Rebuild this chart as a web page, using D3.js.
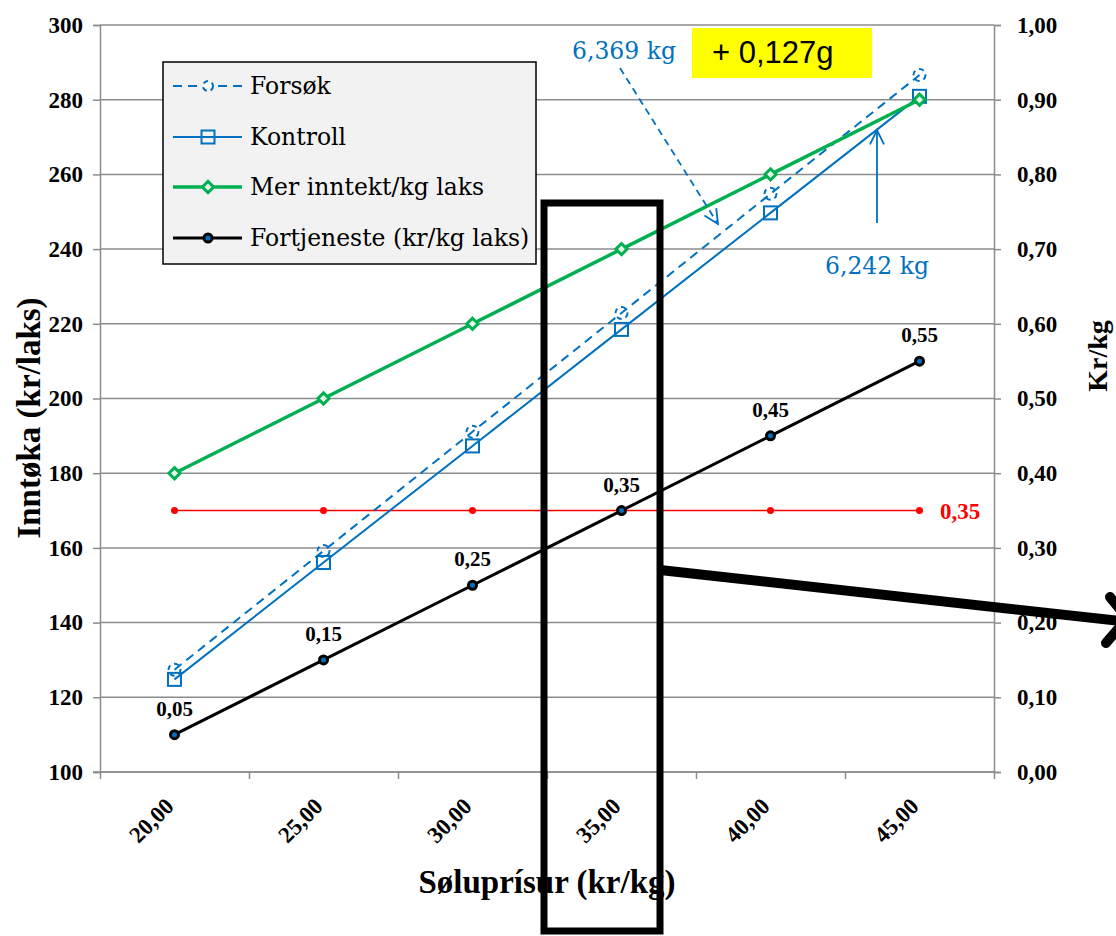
<!DOCTYPE html>
<html><head><meta charset="utf-8">
<script src="https://cdn.jsdelivr.net/npm/d3@7"></script>
<style>body{margin:0;background:#fff}svg{display:block}</style>
</head><body>
<svg id="c" width="1116" height="936"></svg>
<script>
const categories = ["20,00","25,00","30,00","35,00","40,00","45,00"];
const forsok = [127.4, 159.2, 191.1, 222.9, 254.8, 286.6];
const kontroll = [124.8, 156.1, 187.3, 218.5, 249.7, 280.9];
const merInntekt = [180, 200, 220, 240, 260, 280];
const fortjeneste = [0.05, 0.15, 0.25, 0.35, 0.45, 0.55];
const fortjenesteLabels = ["0,05","0,15","0,25","0,35","0,45","0,55"];
const terskel = [0.35, 0.35, 0.35, 0.35, 0.35, 0.35];
const leftTicks = [100,120,140,160,180,200,220,240,260,280,300];
const rightTicks = [0,0.1,0.2,0.3,0.4,0.5,0.6,0.7,0.8,0.9,1.0];
const legendNames = ["Forsøk","Kontroll","Mer inntekt/kg laks","Fortjeneste (kr/kg laks)"];

const BLUE = "#0070C0", GREEN = "#00B050", RED = "#FF0000", GRID = "#8c8c8c";
const SERIF = "'Liberation Serif', 'DejaVu Serif', serif";
const WSERIF = "'DejaVu Serif', 'Liberation Serif', serif";
const svg = d3.select("#c");
const L = 100, R = 994, T = 25, B = 772;
const x = d3.scaleBand().domain(categories).range([L, R]);
const xc = c => x(c) + x.bandwidth()/2;
const yL = d3.scaleLinear().domain([100,300]).range([B, T]);
const yR = d3.scaleLinear().domain([0,1]).range([B, T]);

// gridlines
svg.append("g").selectAll("line").data(leftTicks).join("line")
  .attr("x1", L).attr("x2", R).attr("y1", d=>yL(d)).attr("y2", d=>yL(d))
  .attr("stroke", GRID).attr("stroke-width", 1.5);

// axes
const fmt = d3.format(".2f");
const axL = svg.append("g").attr("transform", `translate(${L},0)`)
  .call(d3.axisLeft(yL).tickValues(leftTicks).tickSize(7).tickPadding(10));
const axR = svg.append("g").attr("transform", `translate(${R},0)`)
  .call(d3.axisRight(yR).tickValues(rightTicks).tickSize(7).tickPadding(16).tickFormat(d=>fmt(d).replace(".",",")));
const tickPos = d3.range(categories.length+1).map(i => L + i*x.step());
const axB = svg.append("g").attr("transform", `translate(0,${B})`)
  .call(d3.axisBottom(d3.scaleLinear().domain([L,R]).range([L,R])).tickValues(tickPos).tickSize(7).tickFormat(""));
[axL, axR, axB].forEach(a => {
  a.select(".domain").attr("stroke", GRID).attr("stroke-width", 1.5);
  a.selectAll(".tick line").attr("stroke", GRID).attr("stroke-width", 1.5);
  a.selectAll("text").attr("font-family", SERIF).attr("font-weight", "bold").attr("font-size", 23).attr("fill", "#000");
});
axB.select(".domain").attr("d", `M${L-7},0H${R}`);
// category labels
svg.append("g").selectAll("text").data(categories).join("text")
  .attr("transform", d => `translate(${xc(d)-5},${B+30}) rotate(-45)`)
  .attr("text-anchor", "end").attr("dy", "0.35em")
  .attr("font-family", SERIF).attr("font-weight", "bold").attr("font-size", 23).text(d => d);

// axis titles
svg.append("text").attr("x", 547).attr("y", 893).attr("text-anchor","middle")
  .attr("font-family", SERIF).attr("font-weight","bold").attr("font-size", 33).text("Søluprísur (kr/kg)");
svg.append("text").attr("transform", "translate(40,418) rotate(-90)").attr("text-anchor","middle")
  .attr("font-family", SERIF).attr("font-weight","bold").attr("font-size", 33).text("Inntøka (kr/laks)");
svg.append("text").attr("transform", "translate(1107,356) rotate(-90)").attr("text-anchor","middle")
  .attr("font-family", SERIF).attr("font-weight","bold").attr("font-size", 28).text("Kr/kg");

// red threshold line
const lineR = d3.line().x((d,i)=>xc(categories[i])).y(d=>yR(d));
svg.append("path").datum(terskel).attr("d", lineR).attr("fill","none").attr("stroke", RED).attr("stroke-width", 1.5);
svg.append("g").selectAll("circle").data(terskel).join("circle")
  .attr("cx",(d,i)=>xc(categories[i])).attr("cy", d=>yR(d)).attr("r", 3.5).attr("fill", RED);
svg.append("text").attr("x", 940).attr("y", yR(0.35)).attr("dy","0.35em")
  .attr("font-family", SERIF).attr("font-weight","bold").attr("font-size", 23).attr("fill", RED).text("0,35");

const lineL = d3.line().x((d,i)=>xc(categories[i])).y(d=>yL(d));

// Forsøk
svg.append("path").datum(forsok).attr("d", lineL).attr("fill","none").attr("stroke", BLUE)
  .attr("stroke-width", 2).attr("stroke-dasharray", "9,6");
svg.append("g").selectAll("circle").data(forsok).join("circle")
  .attr("cx",(d,i)=>xc(categories[i])).attr("cy", d=>yL(d)).attr("r", 6)
  .attr("fill","none").attr("stroke", BLUE).attr("stroke-width", 2).attr("stroke-dasharray","5,4");

// Kontroll
svg.append("path").datum(kontroll).attr("d", lineL).attr("fill","none").attr("stroke", BLUE).attr("stroke-width", 2);
svg.append("g").selectAll("rect").data(kontroll).join("rect")
  .attr("x",(d,i)=>xc(categories[i])-6.5).attr("y", d=>yL(d)-6.5).attr("width",13).attr("height",13)
  .attr("fill","none").attr("stroke", BLUE).attr("stroke-width", 2);

// Mer inntekt
svg.append("path").datum(merInntekt).attr("d", lineL).attr("fill","none").attr("stroke", GREEN).attr("stroke-width", 3.5);
const diamond = d3.symbol().type(d3.symbolDiamond2).size(80);
svg.append("g").selectAll("path").data(merInntekt).join("path")
  .attr("transform",(d,i)=>`translate(${xc(categories[i])},${yL(d)})`).attr("d", diamond)
  .attr("fill","#e6f5ea").attr("stroke", GREEN).attr("stroke-width", 3);

// Fortjeneste
svg.append("path").datum(fortjeneste).attr("d", lineR).attr("fill","none").attr("stroke", "#000").attr("stroke-width", 3);
svg.append("g").selectAll("circle").data(fortjeneste).join("circle")
  .attr("cx",(d,i)=>xc(categories[i])).attr("cy", d=>yR(d)).attr("r", 4)
  .attr("fill", BLUE).attr("stroke", "#000").attr("stroke-width", 3);
svg.append("g").selectAll("text").data(fortjeneste).join("text")
  .attr("x",(d,i)=>xc(categories[i])).attr("y", d=>yR(d)-19).attr("text-anchor","middle")
  .attr("font-family", SERIF).attr("font-weight","bold").attr("font-size", 21)
  .text((d,i)=>fortjenesteLabels[i]);

// Legend
const lg = svg.append("g");
lg.append("rect").attr("x",163).attr("y",62).attr("width",373).attr("height",202)
  .attr("fill","#f2f2f2").attr("stroke","#000").attr("stroke-width",1.5);
const ly = [86, 137, 187, 238];
legendNames.forEach((name, i) => {
  const y = ly[i], g = lg.append("g");
  const ln = g.append("line").attr("x1",173).attr("x2",242).attr("y1",y).attr("y2",y);
  if (i===0) { ln.attr("stroke",BLUE).attr("stroke-width",2).attr("stroke-dasharray","9,6");
    g.append("circle").attr("cx",208).attr("cy",y).attr("r",5).attr("fill","#fff").attr("stroke",BLUE).attr("stroke-width",2).attr("stroke-dasharray","5,4"); }
  if (i===1) { ln.attr("stroke",BLUE).attr("stroke-width",2);
    g.append("rect").attr("x",201.5).attr("y",y-6.5).attr("width",13).attr("height",13).attr("fill","none").attr("stroke",BLUE).attr("stroke-width",2); }
  if (i===2) { ln.attr("stroke",GREEN).attr("stroke-width",3.5);
    g.append("path").attr("transform",`translate(208,${y})`).attr("d",diamond).attr("fill","#e6f5ea").attr("stroke",GREEN).attr("stroke-width",3); }
  if (i===3) { ln.attr("stroke","#000").attr("stroke-width",3);
    g.append("circle").attr("cx",208).attr("cy",y).attr("r",4).attr("fill",BLUE).attr("stroke","#000").attr("stroke-width",3); }
  g.append("text").attr("x",250).attr("y",y).attr("dy","0.35em").attr("font-family",WSERIF).attr("font-size",23.5).text(name);
});

// Annotations
const arrowHead = (x2,y2,ang,len,col) => {
  const a1 = ang + Math.PI - 0.45, a2 = ang + Math.PI + 0.45;
  svg.append("path").attr("d",`M${x2+len*Math.cos(a1)},${y2+len*Math.sin(a1)}L${x2},${y2}L${x2+len*Math.cos(a2)},${y2+len*Math.sin(a2)}`)
    .attr("fill","none").attr("stroke",col).attr("stroke-width",1.8);
};
svg.append("line").attr("x1",620).attr("y1",68).attr("x2",718).attr("y2",224)
  .attr("stroke",BLUE).attr("stroke-width",1.8).attr("stroke-dasharray","7,5");
arrowHead(718,224,Math.atan2(224-68,718-620),16,BLUE);
svg.append("line").attr("x1",877).attr("y1",223).attr("x2",877).attr("y2",130)
  .attr("stroke",BLUE).attr("stroke-width",1.8);
arrowHead(877,130,-Math.PI/2,16,BLUE);
svg.append("text").attr("x",572).attr("y",59).attr("font-family",WSERIF).attr("font-size",23.5).attr("fill",BLUE).text("6,369 kg");
svg.append("text").attr("x",825).attr("y",274).attr("font-family",WSERIF).attr("font-size",23.5).attr("fill",BLUE).text("6,242 kg");
svg.append("rect").attr("x",692).attr("y",28).attr("width",180).attr("height",50).attr("fill","#FFFF00");
svg.append("text").attr("x",712).attr("y",63).attr("font-family","'Liberation Sans', Arial, sans-serif").attr("font-size",31).attr("fill","#000").text("+ 0,127g");

// Overlay shapes
svg.append("rect").attr("x",544).attr("y",203).attr("width",116).attr("height",728)
  .attr("fill","none").attr("stroke","#000").attr("stroke-width",7);
svg.append("line").attr("x1",660).attr("y1",570).attr("x2",1120).attr("y2",621)
  .attr("stroke","#000").attr("stroke-width",10);
svg.append("path").attr("d","M1110,597L1124,614M1106,643L1124,622")
  .attr("stroke","#000").attr("stroke-width",10).attr("stroke-linecap","round").attr("fill","none");
</script>
</body></html>
